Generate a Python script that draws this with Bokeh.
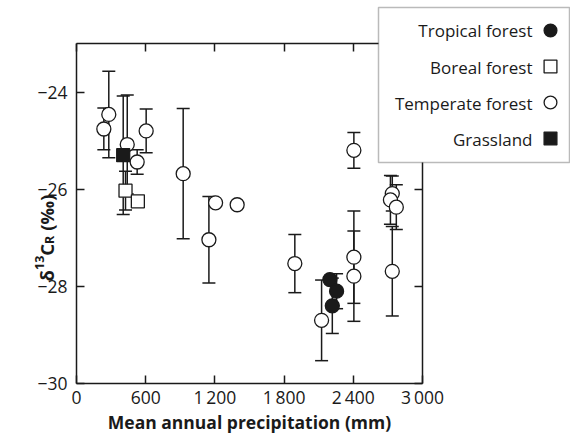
import math

from bokeh.core.properties import value
from bokeh.embed import file_html
from bokeh.models import (BoxAnnotation, ColumnDataSource, FixedTicker, Label,
                          Legend, LegendItem, LinearAxis, Range1d, TeeHead,
                          Whisker)
from bokeh.plotting import figure
from bokeh.resources import INLINE

# ---- data: mean annual precipitation (mm), d13C of respiration (permil), +/- error
temperate_x = [237, 280, 440, 526, 604, 925, 1148, 1206, 1393, 1893, 2125,
               2405, 2405, 2405, 2738, 2722, 2773, 2738]
temperate_y = [-24.76, -24.46, -25.08, -25.44, -24.80, -25.68, -27.04, -26.28,
               -26.32, -27.53, -28.70, -25.20, -27.40, -27.79, -26.09, -26.22,
               -26.37, -27.69]
temperate_err = [0.43, 0.89, 1.02, 0.25, 0.45, 1.34, 0.89, 0.0, 0.0, 0.60,
                 0.83, 0.37, 0.95, 0.93, 0.36, 0.50, 0.46, 0.92]

tropical_x = [2197, 2255, 2218]
tropical_y = [-27.86, -28.10, -28.40]
tropical_err = [0.0, 0.36, 0.57]

boreal_x = [425, 532]
boreal_y = [-26.03, -26.25]
boreal_err = [0.40, 0.0]

grass_x = [405]
grass_y = [-25.30]
grass_err = [1.22]

x_ticks = [0, 600, 1200, 1800, 2400, 3000]
x_tick_labels = ["0", "600", "1\u2009200", "1\u2009800", "2\u2009400", "3\u2009000"]
y_ticks = [-30, -28, -26, -24]
y_tick_labels = ["\u221230", "\u221228", "\u221226", "\u221224"]

legend_names = ["Tropical forest", "Boreal forest", "Temperate forest", "Grassland"]

FONT = "Open Sans"
INK = "#1a1a1a"

# ---- canvas geometry (pixels): the data box sits inside the canvas
W, H = 570, 437
BOX_L, BOX_R, BOX_T, BOX_B = 76, 422, 43, 383
X0, X1 = 0, 3000
Y0, Y1 = -30, -23

# the frame spans the whole canvas; ranges are widened so that the
# data box [X0, X1] x [Y0, Y1] lands on the pixel box above
kx = (X1 - X0) / (BOX_R - BOX_L)
ky = (Y1 - Y0) / (BOX_B - BOX_T)
x_range = Range1d(X0 - BOX_L * kx, X1 + (W - BOX_R) * kx)
y_range = Range1d(Y0 - (H - BOX_B) * ky, Y1 + BOX_T * ky)

p = figure(width=W, height=H, x_range=x_range, y_range=y_range,
           output_backend="svg", toolbar_location=None,
           min_border=0, min_border_left=0, min_border_right=0,
           min_border_top=0, min_border_bottom=0)
p.grid.visible = False
p.outline_line_color = None
p.background_fill_color = "white"
p.border_fill_color = "white"


def style_axis(ax, ticks, labels, show_labels=True):
    ax.ticker = FixedTicker(ticks=ticks)
    ax.major_tick_in = 8
    ax.major_tick_out = 0
    ax.minor_tick_in = 0
    ax.minor_tick_out = 0
    ax.axis_line_color = INK
    ax.axis_line_width = 1.5
    ax.major_tick_line_color = INK
    ax.major_tick_line_width = 1.5
    ax.major_label_text_font = FONT
    ax.major_label_text_color = INK
    if show_labels:
        ax.major_label_overrides = dict(zip(ticks, labels))
        ax.major_label_text_font_size = "17.5px"
    else:
        ax.major_label_overrides = {t: "" for t in ticks}
        ax.major_label_text_font_size = "0px"


xa = p.xaxis[0]
style_axis(xa, x_ticks, x_tick_labels)
xa.fixed_location = Y0
xa.bounds = (X0, X1)
xa.major_label_standoff = 1
xa.axis_label = "Mean annual precipitation (mm)"
xa.axis_label_text_font = FONT
xa.axis_label_text_font_style = "bold"
xa.axis_label_text_font_size = "17.5px"
xa.axis_label_text_color = INK
xa.axis_label_standoff = -2

ya = p.yaxis[0]
style_axis(ya, y_ticks, y_tick_labels)
ya.fixed_location = X0
ya.bounds = (Y0, Y1)
ya.major_label_standoff = 9

top_axis = LinearAxis(fixed_location=Y1, bounds=(X0, X1))
style_axis(top_axis, x_ticks, x_tick_labels, show_labels=False)
p.add_layout(top_axis, "above")
right_axis = LinearAxis(fixed_location=X1, bounds=(Y0, Y1))
style_axis(right_axis, y_ticks, y_tick_labels, show_labels=False)
p.add_layout(right_axis, "right")


def add_series(xs, ys, errs, marker, fill, size):
    src = ColumnDataSource(dict(x=xs, y=ys))
    bars = [(x, y, e) for x, y, e in zip(xs, ys, errs) if e > 0]
    if bars:
        wsrc = ColumnDataSource(dict(
            base=[b[0] for b in bars],
            lower=[b[1] - b[2] for b in bars],
            upper=[b[1] + b[2] for b in bars]))
        w = Whisker(base="base", lower="lower", upper="upper", source=wsrc,
                    line_color=INK, line_width=1.5,
                    upper_head=TeeHead(size=13, line_color=INK, line_width=1.5),
                    lower_head=TeeHead(size=13, line_color=INK, line_width=1.5))
        p.add_layout(w)
    return p.scatter("x", "y", source=src, marker=marker, size=size,
                     fill_color=fill, line_color=INK, line_width=1.3)


r_temp = add_series(temperate_x, temperate_y, temperate_err, "circle", "white", 14)
r_bor = add_series(boreal_x, boreal_y, boreal_err, "square", "white", 13)
r_grass = add_series(grass_x, grass_y, grass_err, "square", INK, 13)
r_trop = add_series(tropical_x, tropical_y, tropical_err, "circle", INK, 14)


def sx(px):
    return px


def sy(py):
    return H - py


# ---- y axis label, laid out upward piece by piece:
# delta, superscript 13, C, subscript R, (permil)
# (text, font size, baseline x in px, advance in px)
ylabel_parts = [("\u03b4", "18.5px", 45.5, 11.5),
                ("13", "12.5px", 38.5, 14.3),
                ("C", "18.5px", 45.5, 11.7),
                ("R", "12.5px", 48.5, 13.2),
                ("(\u2030)", "18.5px", 45.5, 0.0)]
ypos = 281.0
for txt, fs, bx, adv in ylabel_parts:
    p.add_layout(Label(x=sx(bx), y=sy(ypos), x_units="screen", y_units="screen",
                       text=txt, angle=math.pi / 2, text_font=FONT,
                       text_font_style="bold", text_font_size=fs,
                       text_color=INK, text_align="left",
                       text_baseline="alphabetic"))
    ypos -= adv

# ---- legend box: names on the left, markers on the right
p.add_layout(BoxAnnotation(left=sx(378), right=sx(569), top=sy(7), bottom=sy(162),
                           left_units="screen", right_units="screen",
                           top_units="screen", bottom_units="screen",
                           fill_color="white", fill_alpha=1.0,
                           line_color=INK, line_width=1.5, level="annotation"))
row_y = [30, 66.5, 102.5, 138.5]
for name, ry in zip(legend_names, row_y):
    p.add_layout(Label(x=sx(532), y=sy(ry), x_units="screen", y_units="screen",
                       text=name, text_font=FONT, text_font_size="17px",
                       text_color=INK, text_align="right",
                       text_baseline="middle", level="overlay"))

legend = Legend(items=[LegendItem(label=value(""), renderers=[r])
                       for r in (r_trop, r_bor, r_temp, r_grass)],
                location=(sx(534), sy(154)), glyph_width=32, glyph_height=32,
                spacing=4, padding=0, margin=0, label_standoff=0,
                label_width=0, label_height=0,
                border_line_color=None, background_fill_alpha=0,
                level="overlay")
p.add_layout(legend)

open("out.html", "w").write(file_html(p, INLINE))
